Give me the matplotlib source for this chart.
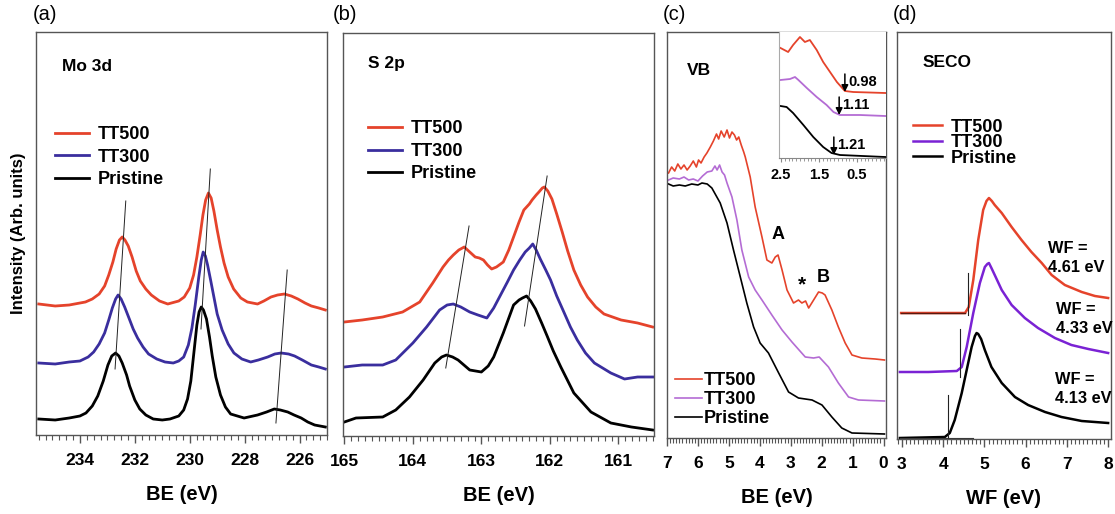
import matplotlib
matplotlib.use('Agg')
import matplotlib.pyplot as plt
from matplotlib.ticker import MultipleLocator, NullLocator

# ---------------------- Data (intensity in arb. units)

# (a) Mo 3d
be_a_red = [235.5, 234.9, 234.39, 233.8, 233.55, 233.3, 233.1, 232.95, 232.8, 232.68, 232.56, 232.46,
            232.36, 232.24, 232.1, 231.95, 231.8, 231.6, 231.4, 231.1, 230.8, 230.4, 230.2, 230.0,
            229.86, 229.74, 229.62, 229.52, 229.42, 229.32, 229.22, 229.12, 229.0, 228.88, 228.75,
            228.6, 228.4, 228.14, 227.9, 227.53, 227.3, 227.04, 226.8, 226.55, 226.3, 226.06, 225.8,
            225.57, 225.3, 225.06]
i_a_red = [131, 129, 130, 133, 136, 141, 149, 160, 173, 186, 195, 198,
           195, 189, 178, 164, 154, 146, 140, 134, 131, 134, 138, 147,
           160, 178, 200, 220, 235, 242, 237, 224, 205, 188, 172,
           158, 146, 137, 133, 131, 134, 138, 140, 141, 139, 136, 132,
           129, 127, 125]
be_a_blue = [235.5, 234.9, 234.39, 234.0, 233.7, 233.5, 233.3, 233.1, 232.95, 232.82, 232.7, 232.61,
             232.5, 232.37, 232.2, 232.06, 231.9, 231.7, 231.5, 231.2, 230.9, 230.6, 230.4, 230.22,
             230.05, 229.92, 229.8, 229.67, 229.58, 229.51, 229.43, 229.35, 229.24, 229.12, 229.0,
             228.82, 228.6, 228.39, 228.1, 227.78, 227.5, 227.16, 226.9, 226.67, 226.4, 226.18,
             225.9, 225.57, 225.3, 225.06]
i_a_blue = [72, 71, 73, 74, 78, 83, 91, 102, 115, 127, 136, 140,
            136, 128, 116, 106, 97, 88, 81, 76, 73, 72, 74, 78,
            90, 107, 130, 158, 175, 183, 179, 170, 155, 138, 121,
            105, 91, 82, 76, 73, 75, 78, 81, 82, 81, 79,
            75, 70, 68, 66]
be_a_blk = [235.5, 234.9, 234.39, 234.0, 233.78, 233.55, 233.35, 233.15, 232.98, 232.84, 232.70, 232.58,
            232.46, 232.3, 232.19, 232.0, 231.82, 231.6, 231.33, 231.0, 230.72, 230.4, 230.22, 230.08,
            229.96, 229.85, 229.74, 229.66, 229.58, 229.5, 229.39, 229.28, 229.18, 229.05, 228.88,
            228.7, 228.51, 228.02, 227.53, 227.2, 226.92, 226.7, 226.43, 226.2, 225.94, 225.7,
            225.45, 225.06]
i_a_blk = [16, 15, 17, 19, 22, 29, 39, 54, 70, 79, 82, 79,
           72, 60, 49, 35, 26, 20, 16, 15, 16, 19, 25, 36,
           54, 82, 110, 123, 128, 125, 116, 98, 79, 58, 40,
           28, 21, 17, 20, 23, 26, 25, 23, 20, 17, 13,
           10, 8]
guide_a = [([232.33, 232.72], [234, 66]), ([229.25, 229.59], [266, 106]), ([226.45, 226.86], [165, 12])]

# (b) S 2p
be_b_red = [165.0, 164.74, 164.44, 164.15, 163.90, 163.71, 163.56, 163.48, 163.41, 163.33, 163.25,
            163.17, 163.09, 163.03, 162.97, 162.91, 162.85, 162.78, 162.68, 162.6, 162.53, 162.45,
            162.38, 162.3, 162.26, 162.2, 162.16, 162.11, 162.08, 162.03, 161.97, 161.9, 161.82,
            161.74, 161.65, 161.55, 161.45, 161.33, 161.21, 160.96, 160.72, 160.50]
i_b_red = [114, 116, 119, 124, 134, 153, 169, 176, 181, 186, 189,
           184, 179, 178, 176, 171, 167, 169, 174, 186, 199, 214,
           226, 232, 236, 241, 244, 248, 249, 245, 237, 222, 204,
           185, 166, 151, 139, 129, 122, 116, 113, 109]
be_b_blue = [165.0, 164.74, 164.44, 164.25, 164.0, 163.80, 163.61, 163.50, 163.41, 163.3, 163.17,
             163.05, 162.92, 162.82, 162.72, 162.62, 162.53, 162.44, 162.36, 162.3, 162.25, 162.2,
             162.14, 162.06, 161.99, 161.9, 161.79, 161.7, 161.6, 161.48, 161.35, 161.11, 160.91,
             160.72, 160.50]
i_b_blue = [69, 71, 71, 76, 93, 109, 126, 131, 132, 129, 124,
            121, 118, 128, 141, 154, 166, 176, 184, 188, 192, 186,
            177, 166, 156, 140, 123, 109, 96, 83, 73, 63, 57,
            59, 59]
be_b_blk = [165.0, 164.83, 164.44, 164.25, 164.05, 163.85, 163.68, 163.58, 163.51, 163.42, 163.34,
            163.17, 163.0, 162.9, 162.82, 162.68, 162.53, 162.45, 162.4, 162.34, 162.28, 162.21,
            162.12, 162.04, 161.95, 161.84, 161.65, 161.40, 161.11, 160.81, 160.50]
i_b_blk = [14, 18, 19, 26, 39, 56, 73, 79, 81, 79, 76,
           66, 64, 70, 79, 103, 131, 136, 138, 140, 135, 127,
           113, 100, 85, 69, 43, 24, 13, 9, 6]
guide_b = [([163.18, 163.52], [210, 68]), ([162.04, 162.37], [260, 110])]

# (c) VB
be_c_red = [6.95, 6.85, 6.75, 6.65, 6.55, 6.45, 6.35, 6.25, 6.15, 6.05, 5.98, 5.9, 5.8, 5.71, 5.6,
            5.5, 5.4, 5.33, 5.25, 5.15, 5.06, 4.98, 4.9, 4.82, 4.75, 4.68, 4.6, 4.52, 4.47, 4.31,
            4.15, 3.93, 3.77, 3.61, 3.5, 3.41, 3.28, 3.12, 2.91, 2.75, 2.64, 2.52, 2.42, 2.26,
            2.10, 1.98, 1.89, 1.67, 1.46, 1.24, 1.02, 0.70, 0.27, -0.03]
i_c_red = [264, 270, 266, 273, 268, 272, 267, 271, 276, 270, 277, 274, 280, 284, 290,
           296, 303, 298, 306, 300, 307, 299, 305, 302, 297, 300, 292, 285, 280, 260,
           230, 200, 177, 174, 180, 182, 167, 147, 134, 137, 134, 136, 129, 137,
           145, 144, 142, 127, 110, 94, 82, 79, 78, 77]
be_c_pur = [6.95, 6.8, 6.6, 6.45, 6.3, 6.15, 6.0, 5.85, 5.7, 5.55, 5.45, 5.38, 5.3, 5.22, 5.14,
            5.06, 4.90, 4.74, 4.58, 4.36, 4.15, 3.93, 3.61, 3.28, 2.96, 2.53, 2.26, 2.08, 1.78,
            1.46, 1.13, 0.81, -0.03]
i_c_pur = [257, 259, 258, 260, 257, 258, 256, 261, 265, 266, 271, 267, 272, 265, 262,
           254, 240, 217, 187, 160, 147, 137, 122, 107, 95, 80, 79, 80, 70,
           54, 40, 37, 36]
be_c_blk = [6.95, 6.8, 6.6, 6.41, 6.2, 6.0, 5.87, 5.7, 5.55, 5.28, 5.06, 4.85, 4.63, 4.42, 4.20,
            3.99, 3.72, 3.39, 3.07, 2.75, 2.31, 1.99, 1.67, 1.35, 1.02, -0.03]
i_c_blk = [253, 251, 252, 251, 253, 252, 254, 253, 249, 234, 214, 187, 160, 134, 110,
           94, 84, 64, 45, 39, 37, 32, 20, 9, 4, 3]

# (c) inset, near the Fermi level
be_in_red = [2.51, 2.31, 2.18, 2.0, 1.87, 1.74, 1.56, 1.39, 1.21, 1.03, 0.82, 0.60, -0.24]
i_in_red = [110, 106, 113, 121, 116, 118, 108, 96, 86, 76, 67, 66, 65]
be_in_pur = [2.51, 2.26, 2.13, 2.04, 1.82, 1.56, 1.30, 1.12, 0.95, 0.42, -0.24]
i_in_pur = [78, 79, 81, 78, 70, 61, 53, 46, 43, 43, 42]
be_in_blk = [2.51, 2.35, 2.18, 1.91, 1.65, 1.39, 1.17, 0.95, -0.24]
i_in_blk = [52, 51, 45, 33, 21, 11, 5, 3, 1]
vbm_labels = ['0.98', '1.11', '1.21']
vbm_x = [0.82, 0.97, 1.11]
vbm_y = [66, 43, 3]

# (d) SECO
wf_red = [2.98, 3.64, 4.53, 4.62, 4.73, 4.85, 4.97, 5.05, 5.11, 5.18, 5.25, 5.42, 5.66, 5.90, 6.14,
          6.39, 6.63, 6.95, 7.36, 7.68, 8.0]
i_d_red = [126, 126, 126, 132, 159, 199, 229, 238, 241, 238, 234, 226, 212, 199, 187,
           176, 164, 154, 147, 143, 141]
wf_pur = [2.95, 3.64, 4.33, 4.45, 4.57, 4.73, 4.89, 5.01, 5.07, 5.11, 5.17, 5.25, 5.42, 5.66, 5.98,
          6.30, 6.71, 7.11, 7.52, 8.0]
i_d_pur = [67, 67, 68, 72, 92, 126, 156, 172, 175, 176, 171, 164, 149, 134, 121,
           111, 101, 94, 90, 86]
wf_blk = [2.95, 4.04, 4.16, 4.28, 4.45, 4.57, 4.69, 4.77, 4.81, 4.85, 4.92, 5.01, 5.17, 5.42, 5.74,
          6.06, 6.47, 6.87, 7.36, 8.0]
i_d_blk = [1, 2, 6, 19, 46, 69, 92, 103, 106, 105, 100, 89, 72, 56, 42,
           34, 27, 22, 18, 16]
wf_values = ['4.61', '4.33', '4.13']
wf_cut = [4.61, 4.42, 4.12]
wf_cut_lo = [124, 62, -3]
wf_cut_hi = [166, 110, 44]

labels = ['TT500', 'TT300', 'Pristine']

# ---------------------- Figure

plt.rcParams['font.family'] = ['Liberation Sans', 'DejaVu Sans']
plt.rcParams['font.weight'] = 'bold'
plt.rcParams['axes.labelweight'] = 'bold'

W, H = 1115, 514
fig = plt.figure(figsize=(W/100, H/100), dpi=100)

def px_axes(l, t, r, b):
    return fig.add_axes([l/W, 1 - b/H, (r - l)/W, (b - t)/H])

red = '#e5432b'
blue = '#3a2e9e'
pur_c = '#b46cd4'
pur_d = '#7a22d4'
spine_c = '#555555'

def style(ax, major, minor):
    for s in ax.spines.values():
        s.set_color(spine_c)
        s.set_linewidth(1.0)
    ax.yaxis.set_major_locator(NullLocator())
    ax.xaxis.set_major_locator(MultipleLocator(major))
    ax.xaxis.set_minor_locator(MultipleLocator(minor))
    ax.tick_params(axis='x', which='major', direction='out', length=6, width=1,
                   color=spine_c, labelsize=12.5, pad=7)
    ax.tick_params(axis='x', which='minor', direction='out', length=3.5, width=0.8,
                   color=spine_c)

leg_kw = dict(frameon=False, loc='upper left', borderaxespad=0, borderpad=0,
              prop={'weight': 'bold', 'size': 13})

# (a)
ax = px_axes(36, 32, 327, 435)
ax.plot(be_a_red, i_a_red, color=red, lw=2, label=labels[0])
ax.plot(be_a_blue, i_a_blue, color=blue, lw=2, label=labels[1])
ax.plot(be_a_blk, i_a_blk, color='black', lw=2, label=labels[2])
for gx, gy in guide_a:
    ax.plot(gx, gy, color='#222222', lw=0.7)
ax.set_xlim(235.6, 225)
ax.set_ylim(0, 403)
style(ax, 2, 0.25)
ax.set_xlabel('BE (eV)', fontsize=14.5, labelpad=12)
ax.set_ylabel('Intensity (Arb. units)', fontsize=12, labelpad=7)
ax.text(0.09, 0.915, 'Mo 3d', transform=ax.transAxes, fontsize=12.5, va='center')
ax.legend(bbox_to_anchor=(0.065, 0.766), handlelength=1.9, handletextpad=0.45,
          labelspacing=0.3, **leg_kw)

# (b)
ax = px_axes(343, 33, 654, 436)
ax.plot(be_b_red, i_b_red, color=red, lw=2, label=labels[0])
ax.plot(be_b_blue, i_b_blue, color=blue, lw=2, label=labels[1])
ax.plot(be_b_blk, i_b_blk, color='black', lw=2, label=labels[2])
for gx, gy in guide_b:
    ax.plot(gx, gy, color='#222222', lw=0.7)
ax.set_xlim(165.02, 160.48)
ax.set_ylim(0, 403)
style(ax, 1, 0.1)
ax.set_xlabel('BE (eV)', fontsize=14.5, labelpad=12)
ax.text(0.08, 0.925, 'S 2p', transform=ax.transAxes, fontsize=12.5, va='center')
ax.legend(bbox_to_anchor=(0.08, 0.783), handlelength=1.9, handletextpad=0.45,
          labelspacing=0.3, **leg_kw)

# (c)
ax = px_axes(667, 32, 886, 438)
ax.plot(be_c_red, i_c_red, color=red, lw=1.2, label=labels[0])
ax.plot(be_c_pur, i_c_pur, color=pur_c, lw=1.2, label=labels[1])
ax.plot(be_c_blk, i_c_blk, color='black', lw=1.2, label=labels[2])
ax.set_xlim(7.0, -0.08)
ax.set_ylim(-1, 405)
style(ax, 1, 0.1)
ax.set_xlabel('BE (eV)', fontsize=14.5, labelpad=12)
ax.text(0.09, 0.905, 'VB', transform=ax.transAxes, fontsize=12.5, va='center')
ax.text(3.41, 194, 'A', fontsize=13, ha='center', va='bottom')
ax.text(2.64, 143, '*', fontsize=15, ha='center', va='bottom')
ax.text(1.96, 151, 'B', fontsize=13, ha='center', va='bottom')
ax.legend(bbox_to_anchor=(0.035, 0.163), handlelength=1.5, handletextpad=0.1,
          labelspacing=0.12, **leg_kw)

# (c) inset
axi = fig.add_axes([779/W, 1 - 158/H, (886 - 779)/W, (158 - 32)/H])
axi.plot(be_in_red, i_in_red, color=red, lw=1.3)
axi.plot(be_in_pur, i_in_pur, color=pur_c, lw=1.3)
axi.plot(be_in_blk, i_in_blk, color='black', lw=1.3)
for lab, x, y in zip(vbm_labels, vbm_x, vbm_y):
    axi.annotate('', xy=(x, y), xytext=(x, y + 18),
                 arrowprops=dict(arrowstyle='-|>', color='black', lw=1.1, mutation_scale=10,
                                 shrinkA=0, shrinkB=0))
    axi.text(x - 0.08, y + 10, lab, fontsize=10.5, va='center', ha='left')
axi.set_xlim(2.55, -0.26)
axi.set_ylim(0, 126)
axi.yaxis.set_major_locator(NullLocator())
axi.set_xticks([2.5, 1.5, 0.5])
axi.set_xticklabels(['2.5', '1.5', '0.5'])
axi.xaxis.set_minor_locator(MultipleLocator(0.1))
axi.tick_params(axis='x', which='major', direction='out', length=3, color='#888888',
                labelsize=10.5, pad=4)
axi.tick_params(axis='x', which='minor', direction='out', length=2, color='#888888')
axi.spines['top'].set_visible(False)
axi.spines['right'].set_visible(False)
axi.spines['left'].set_color('#aaaaaa')
axi.spines['bottom'].set_color('#888888')

# (d)
ax = px_axes(897, 32, 1111, 439)
ax.plot(wf_red, i_d_red, color=red, lw=1.8, label=labels[0])
ax.plot(wf_pur, i_d_pur, color=pur_d, lw=1.8, label=labels[1])
ax.plot(wf_blk, i_d_blk, color='black', lw=1.8, label=labels[2])
ax.plot(wf_red[:3], i_d_red[:3], color='#5a1a10', lw=1.0)
ax.plot([wf_blk[0], 4.72], [1, 1], color='#333333', lw=0.8)
for x, lo, hi in zip(wf_cut, wf_cut_lo, wf_cut_hi):
    ax.plot([x, x], [lo, hi], color='#222222', lw=0.8)
wf_text_x = [6.55, 6.74, 6.71]
wf_text_y = [181, 120, 50]
for v, x, y in zip(wf_values, wf_text_x, wf_text_y):
    ax.text(x, y, 'WF =\n' + v + ' eV', fontsize=11.8, ha='left', va='center', linespacing=1.3)
ax.set_xlim(2.88, 8.07)
ax.set_ylim(0, 407)
style(ax, 1, 0.1)
ax.set_xlabel('WF (eV)', fontsize=14.5, labelpad=12)
ax.text(0.12, 0.925, 'SECO', transform=ax.transAxes, fontsize=12.5, va='center')
ax.legend(bbox_to_anchor=(0.075, 0.787), handlelength=1.6, handletextpad=0.5,
          labelspacing=-0.08, **leg_kw)

# panel letters
for lab, x in zip(['(a)', '(b)', '(c)', '(d)'], [33, 333, 663, 893]):
    fig.text(x/W, 1 - 15/H, lab, fontsize=14.5, fontweight='normal', va='center', ha='left')

plt.savefig('out.png', dpi=100)
